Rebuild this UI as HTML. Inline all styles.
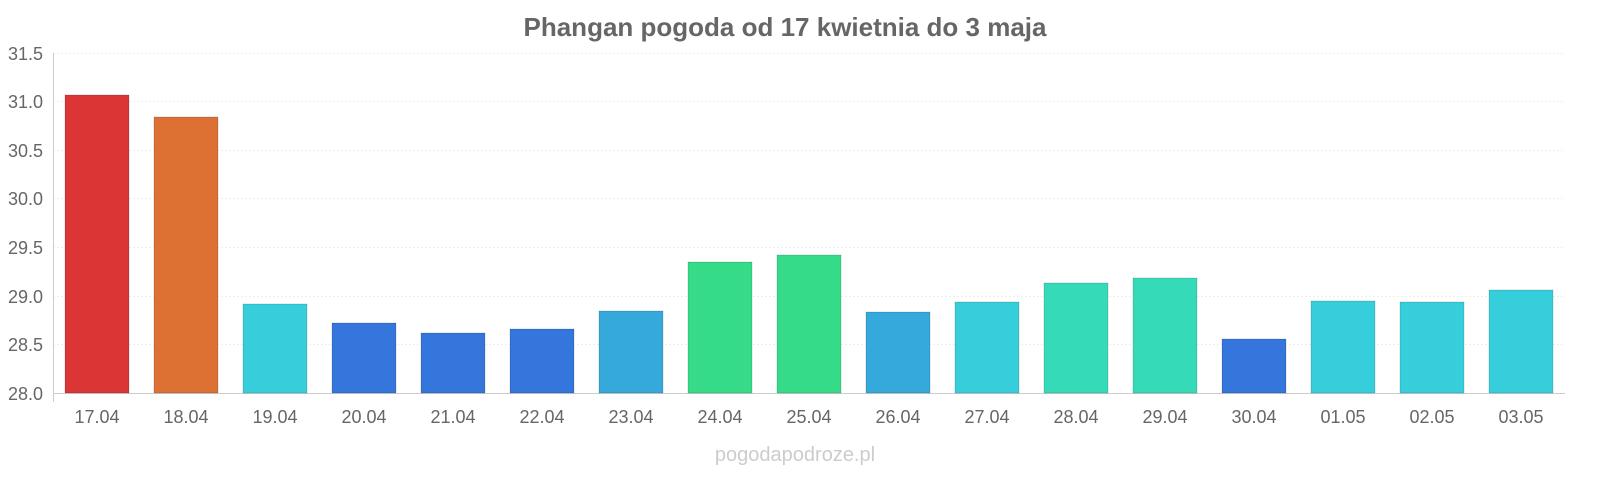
<!DOCTYPE html>
<html><head><meta charset="utf-8"><style>
body{margin:0;background:#fff;}
svg{display:block;font-family:"Liberation Sans",sans-serif;}
</style></head><body>
<svg width="1600" height="480" viewBox="0 0 1600 480">
<text x="785" y="36" text-anchor="middle" font-size="26" font-weight="bold" fill="#666">Phangan pogoda od 17 kwietnia do 3 maja</text>
<g stroke="#eee" stroke-width="1" stroke-dasharray="2,2">
<line x1="53" x2="1565" y1="53.5" y2="53.5"/>
<line x1="53" x2="1565" y1="101.5" y2="101.5"/>
<line x1="53" x2="1565" y1="150.5" y2="150.5"/>
<line x1="53" x2="1565" y1="198.5" y2="198.5"/>
<line x1="53" x2="1565" y1="247.5" y2="247.5"/>
<line x1="53" x2="1565" y1="296.5" y2="296.5"/>
<line x1="53" x2="1565" y1="344.5" y2="344.5"/>
</g>
<line x1="53.5" x2="53.5" y1="53" y2="402" stroke="#ccc"/>
<line x1="53" x2="1565" y1="393.5" y2="393.5" stroke="#ccc"/>
<g font-size="18" fill="#666" text-anchor="end">
<text x="43" y="60">31.5</text><text x="43" y="108">31.0</text><text x="43" y="157">30.5</text>
<text x="43" y="205">30.0</text><text x="43" y="254">29.5</text><text x="43" y="303">29.0</text>
<text x="43" y="351">28.5</text><text x="43" y="400">28.0</text>
</g>
<g stroke-opacity="0.3" stroke="#000" stroke-width="0.5">
<rect x="65" y="95" width="64" height="298" fill="#dc3535"/>
<rect x="154" y="117" width="64" height="276" fill="#dd7033"/>
<rect x="243" y="304" width="64" height="89" fill="#36cedb"/>
<rect x="332" y="323" width="64" height="70" fill="#3476db"/>
<rect x="421" y="333" width="64" height="60" fill="#3476db"/>
<rect x="510" y="329" width="64" height="64" fill="#3476db"/>
<rect x="599" y="311" width="64" height="82" fill="#35a8dc"/>
<rect x="688" y="262" width="64" height="131" fill="#36db88"/>
<rect x="777" y="255" width="64" height="138" fill="#36db88"/>
<rect x="866" y="312" width="64" height="81" fill="#35a8dc"/>
<rect x="955" y="302" width="64" height="91" fill="#36cedb"/>
<rect x="1044" y="283" width="64" height="110" fill="#35dbb8"/>
<rect x="1133" y="278" width="64" height="115" fill="#35dbb8"/>
<rect x="1222" y="339" width="64" height="54" fill="#3476db"/>
<rect x="1311" y="301" width="64" height="92" fill="#36cedb"/>
<rect x="1400" y="302" width="64" height="91" fill="#36cedb"/>
<rect x="1489" y="290" width="64" height="103" fill="#36cedb"/>
</g>
<g font-size="18" fill="#666" text-anchor="middle">
<text x="97" y="423">17.04</text><text x="186" y="423">18.04</text><text x="275" y="423">19.04</text>
<text x="364" y="423">20.04</text><text x="453" y="423">21.04</text><text x="542" y="423">22.04</text>
<text x="631" y="423">23.04</text><text x="720" y="423">24.04</text><text x="809" y="423">25.04</text>
<text x="898" y="423">26.04</text><text x="987" y="423">27.04</text><text x="1076" y="423">28.04</text>
<text x="1165" y="423">29.04</text><text x="1254" y="423">30.04</text><text x="1343" y="423">01.05</text>
<text x="1432" y="423">02.05</text><text x="1521" y="423">03.05</text>
</g>
<text x="795" y="461" text-anchor="middle" font-size="20" fill="#ccc">pogodapodroze.pl</text>
</svg>
</body></html>
